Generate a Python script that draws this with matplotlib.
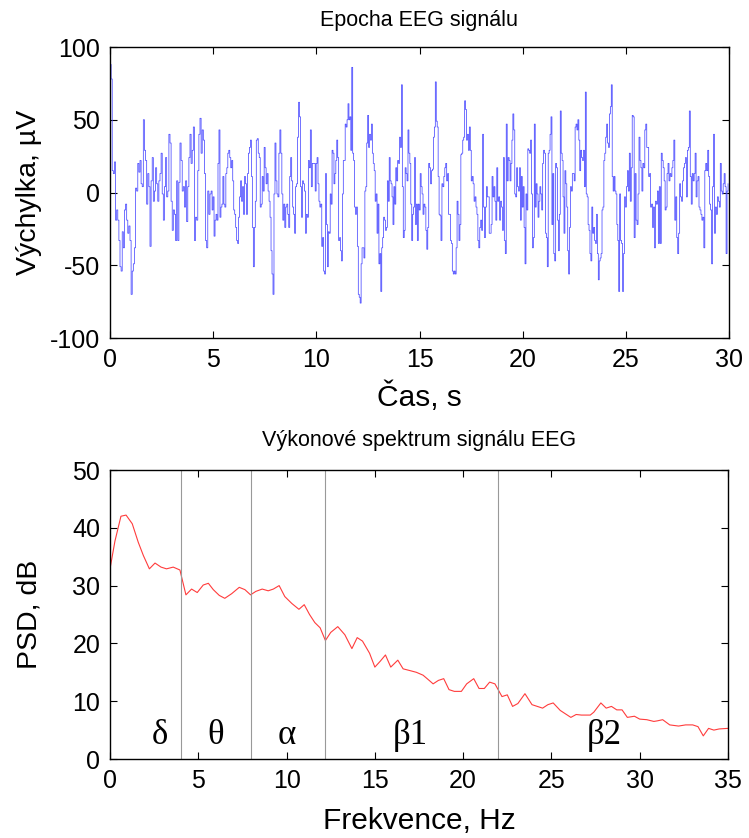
import numpy as np
import matplotlib
matplotlib.use("Agg")
import matplotlib.pyplot as plt

plt.rcParams["font.family"] = ["Liberation Sans", "DejaVu Sans"]
plt.rcParams["axes.unicode_minus"] = False

# EEG epoch in six chunks (values in uV)
eeg_edges = [0, 4.9, 9.9, 14.85, 19.8, 24.7, 30]
eeg_chunks = [
    [88, 78, 15, 13, 21, -19, -12, -19, -33, -51, -54, -27, -38, -12, -8, -19, -28, -23, -33, -70,
     -54, -49, -38, 3, 1, 20, 14, 22, 6, 4, 50, 29, 22, -8, 13, 4, -37, 8, 24, -6,
     1, 17, 6, -6, 8, 13, 27, -1, -19, 4, 24, -3, 1, 40, 34, -6, -26, -12, -15, -33,
     8, -33, 7, 34, 22, 1, 4, -10, 8, -20, 4, 24, 40, 20, 29, 45, -33, -17, -19, 15,
     40, 51, 27, 43, 36, 13, -33, -38, 1, -15, -1],
    [1, -12, -3, -30, -19, -15, -19, 20, 43, -17, -10, -8, 11, -8, -10, 13, 17, 27, 29, 24,
     17, 22, 8, -12, -15, -24, -33, -35, -17, -3, 8, -6, 4, -15, 11, 6, -15, 13, 27, 31,
     36, 11, -24, -51, -24, -6, 36, 37, 27, 24, -10, -8, 11, 1, 31, 17, 6, 13, 1, -6,
     -17, -40, -56, -70, -1, 34, 8, -1, -3, 27, 43, 27, -1, -19, -8, -24, -10, -8, -15, -24,
     11, 24, 8, -10, -15, -28, 4, 6, 38, 62, 52, 4, -17, 8, 6, 1, -28, -15, -17, 22,
     17, 43, 4, 20, 20],
    [20, 1, 20, 24, 6, -6, -10, -8, -37, -31, -54, -56, 13, -22, -51, -27, -28, -1, -8, 29,
     27, 6, 13, 22, 36, 24, -33, -31, -40, -47, -1, 22, 22, 47, 45, 50, 61, 50, 52, 29,
     86, 27, 22, -10, -15, -10, -37, -70, -72, -76, -49, -38, -38, -45, 1, 4, 34, 53, 31, 40,
     36, 47, 27, 20, 15, -6, -1, -28, -8, -49, -42, -68, -38, -31, -17, -19, -26, -24, 8, -6,
     24, 8, 6, -3, -22, 4, -8, 17, 8, 22, 20, 38, 31, 74, 4, -31, -26, 17, 13, 8,
     43, 27, 20, -8, -33, -15, -10, 24, -22],
    [-8, -33, -8, -12, 13, 4, -1, -15, -8, -10, -26, -39, -24, 20, 17, 6, 15, 16, 38, 45,
     76, 49, 45, 11, -15, -16, -33, 6, 4, 11, 17, 20, 8, 13, -15, -15, -33, -35, -54, -56,
     -54, -56, -38, -6, -15, -33, -22, 26, 27, 36, 38, 63, 57, 36, 40, 29, 45, 29, 8, 11,
     6, -6, -3, -10, -15, -33, -38, -24, -19, -26, 40, -10, -31, -10, 4, -3, -3, -28, -28, -22,
     11, -3, 4, -6, -19, 17, -6, -3, -19, -6, -10, -26, 24, -33, -42, 47, 8, 24, 22, 8,
     20, 36, 54, 43, -1, -3, 17, 4],
    [1, 17, -19, 11, -10, 4, -24, -49, -1, -12, 30, 29, 27, 36, -1, -38, -31, 47, -10, 6,
     -1, -17, -6, 4, -1, -12, 20, 29, 27, -28, -31, -51, 27, 29, 40, 52, -22, 13, -42, -47,
     20, 17, -19, -40, -15, 56, 27, 22, -3, -28, 15, 6, -10, -40, -56, -24, 4, 1, 13, 13,
     8, 45, 47, 43, 50, 36, 15, 29, 24, 22, 29, 4, 69, -1, -3, -22, -26, -42, -47, -10,
     -28, -24, -33, -35, -15, -42, -60, -47, -45, -42, -12, -10, 22, 27, 38, 47, 34, 31, 54, 59,
     74, 11, 1, 11, 1, -1, -22, -33, -68],
    [-1, -33, -35, -68, -42, -3, -10, 4, 15, 1, 27, -6, 17, 53, 52, -31, 13, -19, -22, -1,
     38, 22, 17, 1, 20, 17, 43, 47, 31, 31, 11, 13, -10, -8, -24, -10, -38, -6, -8, 1,
     -35, 4, -35, 27, 22, 17, 8, -12, -10, 13, 20, 8, 13, 11, 17, 22, 36, -19, -3, -31,
     -42, -28, 6, -3, -6, 8, 17, 20, 24, -3, 29, 31, 56, 11, -8, 13, 8, 13, 27, -3,
     8, 11, -10, -12, -15, -19, -17, -38, 15, 20, 15, 29, 11, -8, -12, -49, 4, 40, -28, -10,
     -15, -3, -6, -10, 20, 1, -1, 6, 13, 4, -42, 1, 6],
]

# power spectrum
freq = [0, 0.28, 0.62, 0.91, 1.26, 1.6, 1.89, 2.23, 2.55, 2.89, 3.2, 3.58, 3.96, 4.3, 4.62,
        4.94, 5.28, 5.57, 5.85, 6.19, 6.5, 6.89, 7.32, 7.64, 7.96, 8.26, 8.62, 8.96, 9.25,
        9.58, 9.9, 10.3, 10.7, 11.0, 11.3, 11.6, 11.9, 12.2, 12.5, 12.9, 13.3, 13.7, 14.0,
        14.3, 14.7, 15.0, 15.3, 15.6, 15.9, 16.3, 16.6, 16.98, 17.35, 17.73, 18.0, 18.3,
        18.6, 18.9, 19.2, 19.5, 19.9, 20.2, 20.6, 20.9, 21.2, 21.5, 21.8, 22.2, 22.5, 22.8,
        23.1, 23.5, 23.9, 24.2, 24.5, 24.8, 25.1, 25.5, 25.8, 26.1, 26.4, 26.7, 27.2, 27.4,
        27.8, 28.1, 28.4, 28.7, 29.0, 29.3, 29.7, 30.0, 30.4, 30.8, 31.0, 31.3, 31.7, 32.2,
        32.6, 33.0, 33.3, 33.6, 33.9, 34.2, 34.5, 35.0]
psd = [32.9, 37.7, 42.0, 42.2, 40.7, 37.5, 35.2, 32.9, 33.9, 33.2, 32.9, 33.2, 32.7, 28.4, 29.4,
       28.8, 30.1, 30.4, 29.3, 28.3, 27.8, 28.6, 29.7, 29.3, 28.4, 29.0, 29.4, 29.1, 29.4,
       30.0, 28.1, 26.9, 25.9, 26.7, 25.0, 23.6, 22.7, 20.5, 21.9, 22.9, 21.5, 19.1, 21.0,
       20.4, 18.3, 15.9, 16.9, 18.0, 15.9, 17.1, 15.6, 15.3, 15.0, 14.5, 13.8, 13.0,
       13.6, 13.9, 12.0, 11.7, 11.7, 13.0, 13.9, 12.2, 12.2, 13.3, 13.0, 10.8, 11.1, 9.1,
       9.6, 11.3, 9.4, 9.1, 8.8, 9.4, 9.7, 8.4, 7.8, 7.2, 7.7, 7.6, 7.6, 8.1,
       9.7, 8.8, 9.1, 8.5, 8.5, 7.2, 7.4, 6.9, 6.8, 6.5, 6.6, 6.8, 5.9, 5.7,
       5.9, 5.9, 5.6, 4.0, 5.3, 5.0, 5.2, 5.3]

band_edges = [4, 8, 12.2, 22]
band_names = ["δ", "θ", "α", "β1", "β2"]
band_label_x = [2.8, 6.0, 10.0, 17.0, 28.0]

t = np.concatenate([np.linspace(a, b, len(c), endpoint=False)
                    for a, b, c in zip(eeg_edges[:-1], eeg_edges[1:], eeg_chunks)])
eeg = np.concatenate([np.array(c, float) for c in eeg_chunks])

fig = plt.figure(figsize=(7.49, 8.38), dpi=100)
ax1 = fig.add_axes([110 / 749, 1 - 338 / 838, 619 / 749, 291 / 838])
ax2 = fig.add_axes([110 / 749, 1 - 759 / 838, 618 / 749, 289 / 838])

ax1.step(t, eeg, where="post", color="#4a4aff", lw=0.55)
ax1.set_xlim(0, 30)
ax1.set_ylim(-100, 100)
ax1.set_xticks(range(0, 31, 5))
ax1.set_yticks(range(-100, 101, 50))
ax1.set_title("Epocha EEG signálu", fontsize=15.5, pad=15)
ax1.set_xlabel("Čas, s", fontsize=21.5, labelpad=7)
ax1.set_ylabel("Výchylka, µV", fontsize=20.5)

ax2.plot(freq, psd, color="#ff3c3c", lw=0.8)
for b in band_edges:
    ax2.axvline(b, color="#999999", lw=0.8)
for x, name in zip(band_label_x, band_names):
    ax2.text(x, 4, name, fontsize=25, family="Liberation Serif", ha="center", va="center")
ax2.set_xlim(0, 35)
ax2.set_ylim(0, 50)
ax2.set_xticks(range(0, 36, 5))
ax2.set_yticks(range(0, 51, 10))
ax2.set_title("Výkonové spektrum signálu EEG", fontsize=15.5, pad=17)
ax2.set_xlabel("Frekvence, Hz", fontsize=21.5, labelpad=10)
ax2.set_ylabel("PSD, dB", fontsize=20.5)

for ax in (ax1, ax2):
    ax.tick_params(direction="in", top=True, right=True, length=5, labelsize=18, pad=7)
    ax.yaxis.set_label_coords(-68 / 619, 0.5)
    for s in ax.spines.values():
        s.set_linewidth(1.0)

fig.savefig("out.png", dpi=100)
